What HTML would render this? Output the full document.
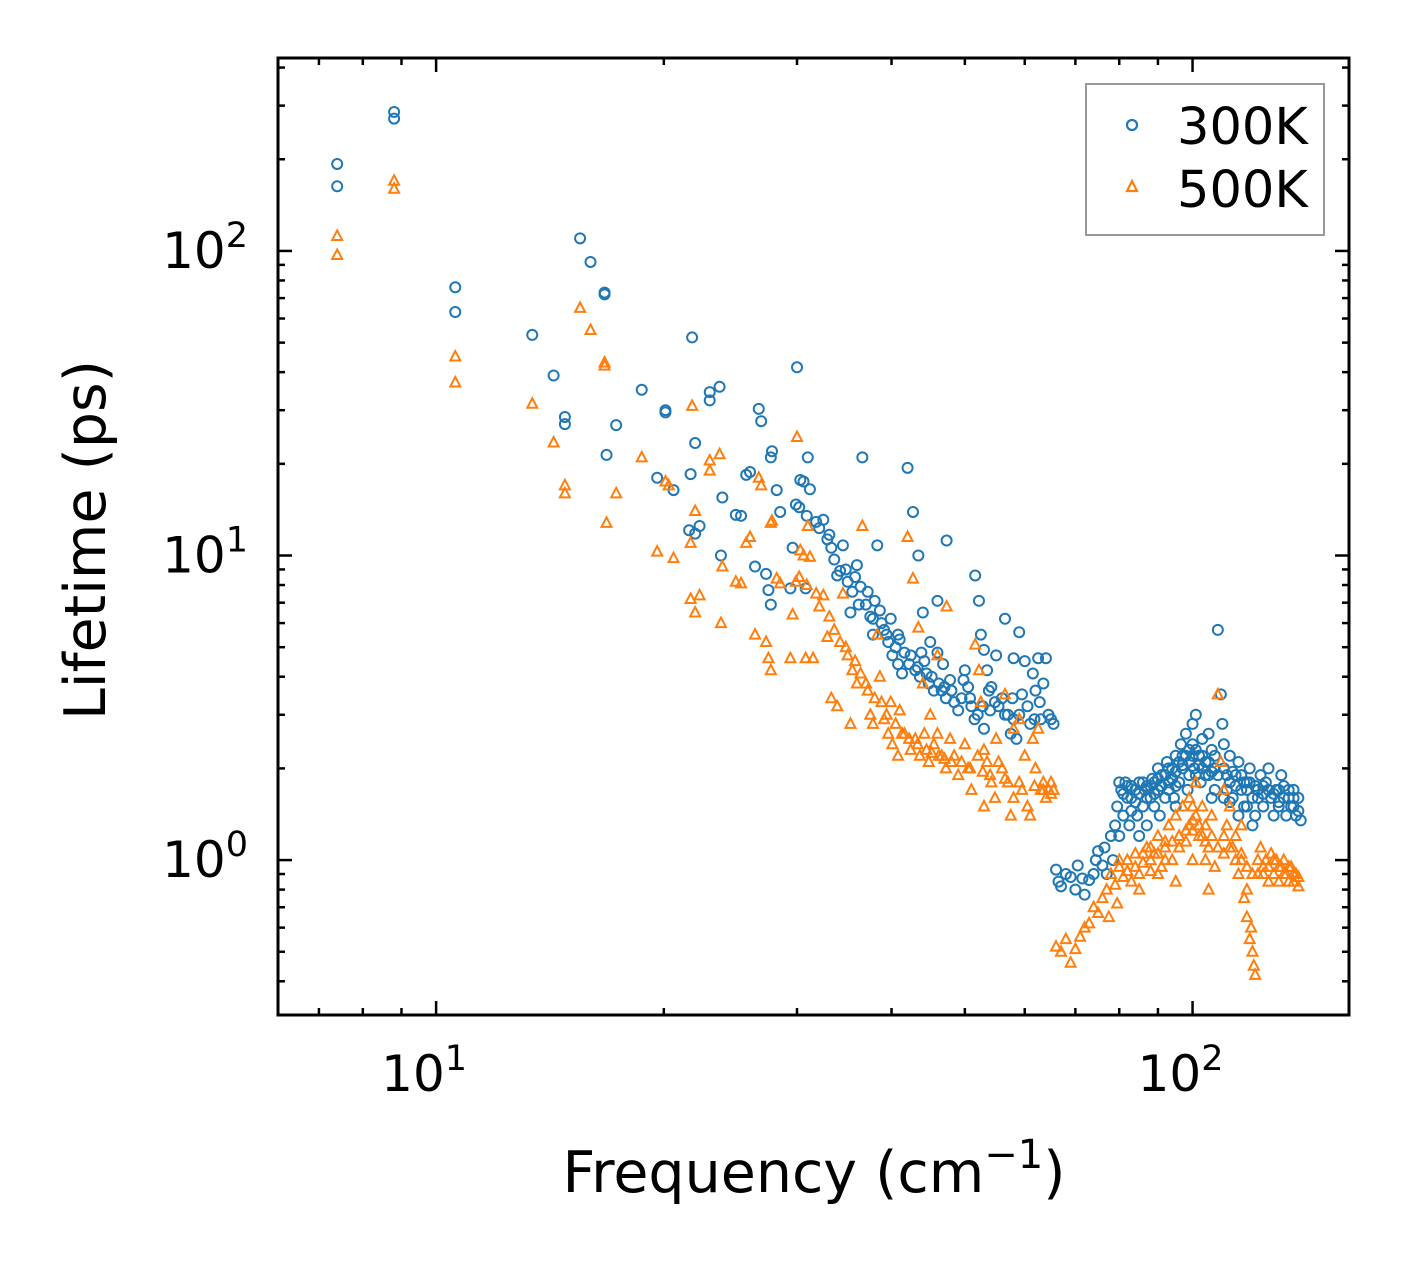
<!DOCTYPE html>
<html><head><meta charset="utf-8"><style>
body{margin:0;background:#fff}
svg text{font-family:"DejaVu Sans","Liberation Sans",sans-serif;fill:#000}
</style></head><body>
<svg id="chart" width="1408" height="1265" xmlns="http://www.w3.org/2000/svg">
<rect width="1408" height="1265" fill="#fff"/>
<g id="marks"></g>
<g id="axes"></g>
<rect x="278" y="58" width="1071" height="957" fill="none" stroke="#000" stroke-width="3"/>
<text x="814" y="1192" font-size="57" text-anchor="middle">Frequency (cm<tspan font-size="40" dy="-24">−1</tspan><tspan dy="24">)</tspan></text>
<text transform="translate(105,540) rotate(-90)" font-size="57" text-anchor="middle">Lifetime (ps)</text>
<g>
<rect x="1086" y="84" width="238" height="151" fill="#fff" stroke="#999" stroke-width="2"/>
<circle cx="1132" cy="125" r="5" fill="none" stroke="#1f77b4" stroke-width="2.2"/>
<text x="1177" y="144" font-size="51">300K</text>
<path d="M1132,181 L1137,191 L1127,191 Z" fill="none" stroke="#ff7f0e" stroke-width="2.2"/>
<text x="1177" y="207" font-size="51">500K</text>
</g>
</svg>
<script>
const series300 = [[7.4,193],[7.4,163],[8.8,286],[8.8,272],[10.6,63],[10.6,76],[13.4,53],[14.3,39],[14.8,28.5],[14.8,27],[15.5,110],[16,92],[16.7,73],[16.7,72],[16.8,21.4],[17.3,26.8],[18.7,35],[19.6,18],[20.1,30],[20.1,29.5],[20.6,16.4],[21.8,52],[21.7,18.5],[21.6,12.1],[22,11.8],[22,23.4],[22.3,12.5],[23,34.4],[23,32.3],[23.7,35.8],[23.8,10],[23.9,15.5],[24.9,13.6],[25.3,13.5],[25.7,18.4],[26,18.8],[26.4,9.2],[26.7,30.3],[26.9,27.6],[27.3,8.7],[27.5,7.7],[27.7,6.9],[27.7,21],[27.8,22],[28.2,16.4],[28.5,13.9],[29.4,7.8],[29.6,10.6],[29.9,14.7],[30.2,14.4],[30,41.5],[30.3,17.7],[30.6,17.5],[30.9,13.5],[31.2,16.5],[31,21],[30.8,7.8],[31.8,12.9],[32.1,12.3],[32.5,13.1],[32.9,11.3],[33.3,10.6],[33.1,11.7],[33.6,9.7],[34.2,8.9],[33.9,8.6],[34.5,10.8],[35,8.2],[35.5,7.6],[36,9.3],[35.3,6.5],[36.6,21],[37.2,7.6],[37.5,6.3],[38,7.1],[37.8,5.5],[38.3,10.8],[39.1,5.7],[39.6,5.2],[40.1,4.7],[39.9,6.2],[40.8,4.4],[41.3,4.1],[42,19.4],[42.7,13.9],[43.4,10],[42.4,4.7],[43,4.2],[43.6,4],[44.2,4.5],[44.8,3.8],[45.5,3.6],[47.3,11.2],[46,7.1],[46.6,3.6],[47.2,3.4],[47.8,3.9],[48.4,3.3],[49,3.1],[51.6,8.6],[52.2,7.1],[52.5,5.5],[53,4.9],[53.5,4.2],[54.2,3.7],[54.8,3.3],[55.4,3.2],[56,3.4],[50,4.2],[50.5,3.7],[51,3.2],[51.5,2.9],[52,3.0],[53,2.7],[55,4.7],[56.5,6.2],[57,3.0],[58,2.9],[58,4.6],[59,5.6],[59.5,3.5],[60,4.5],[60.5,3.2],[61,2.8],[61.5,4.1],[62,3.6],[62.5,4.6],[63,2.9],[63.5,3.8],[64,4.6],[64.5,3.0],[65,2.9],[65.5,2.8],[58.5,2.5],[57.5,2.6],[38.6,6.6],[41,5.3],[44,6.5],[45,5.2],[46,4.8],
[34.8,9.0],[35.8,8.5],[36.4,7.9],[37,6.9],[38.8,6.0],[39.4,5.5],[40.5,5.0],[41.6,4.8],[42.2,4.4],[43.3,4.3],[44.5,4.1],[45.2,4.0],[46.2,3.8],[47,3.7],[48,3.6],[49.5,3.4],[50.8,3.4],[52.8,3.2],[54,3.1],[56.5,3.0],[59,3.0],[61.8,2.9],[36.2,6.9],[37.8,6.2],[40.8,5.5],[43.8,4.8],[46.8,4.4],[49.8,3.9],[53.8,3.6],[57.8,3.4],[62.8,3.3],
[66,0.93],[66.5,0.85],[67,0.82],[68,0.9],[69,0.88],[70,0.8],[70.5,0.96],[71.5,0.87],[72,0.77],[73,0.86],[74,0.9],[74.5,1.0],[75,1.07],[76,0.96],[76.5,1.1],[77,0.9],[78,1.2],[78.5,1.0],[79,1.3],[79.5,1.5],[80,1.2],[80.5,1.7],[81,1.4],[81.5,1.8],[82,1.6],[82.5,1.3],[83,1.75],[84,1.55],[84.5,1.4],[85,1.8],[86,1.5],[86.5,1.7],[87,1.3],[88,1.6],[88.5,1.85],[89,1.5],[90,1.7],[90.5,1.4],[91,1.9],[92,1.6],[92.5,2.1],[93,1.8],[94,2.0],[94.5,1.6],[95,2.2],[96,1.8],[96.5,2.4],[97,2.0],[98,2.6],[98.5,1.7],[99,2.3],[100,2.8],[100.5,2.0],[101,3.0],[102,2.2],[102.5,1.8],[103,2.5],[104,2.1],[105,1.9],[106,2.3],[107,1.7],[108,5.7],[109,3.5],[109.5,2.8],[110,2.4],[111,1.9],[112,2.2],[113,1.6],[114,1.9],[115,2.1],[116,1.7],[117,1.5],[118,1.8],[119,2.0],[120,1.6],[121,1.4],[122,1.7],[123,1.9],[124,1.5],[125,1.8],[126,2.0],[127,1.6],[128,1.4],[129,1.7],[130,1.5],[131,1.9],[132,1.6],[133,1.4],[134,1.7],[135,1.5],[136,1.6],[137,1.4],[138,1.45],[139,1.35],[85,1.2],[90,2.0],[95,1.5],[100,2.4],[105,2.6],[110,1.6],[115,1.4],[120,1.3],[87,1.75],[93,1.7],[97,2.2],[99,1.9],[103,2.0],[107,2.2],[111,1.7],[117,1.8],
[80,1.8],[81,1.65],[82,1.75],[83,1.6],[84,1.7],[85,1.65],[86,1.8],[87,1.6],[88,1.75],[89,1.8],[90,1.85],[91,1.75],[92,1.9],[93,2.0],[94,1.85],[95,1.95],[96,2.1],[97,2.05],[98,2.2],[99,2.1],[100,2.2],[101,2.3],[102,2.05],[103,2.2],[104,1.9],[105,2.1],[106,1.95],[107,2.0],[108,1.9],[110,2.0],[112,1.8],[113,1.95],[114,1.75],[116,1.9],[118,1.7],[119,1.8],[121,1.75],[122,1.6],[124,1.75],[126,1.7],[128,1.65],[130,1.7],[132,1.75],[134,1.6],[136,1.7],[138,1.6],[83,1.45],[89,1.65],[95,1.75],[101,1.9],[106,1.6],[112,1.55],[118,1.5],[124,1.65],[130,1.55],[136,1.5]];
const series500 = [[7.4,112],[7.4,97],[8.8,170],[8.8,160],[10.6,45],[10.6,37],[13.4,31.5],[14.3,23.5],[14.8,17],[14.8,16],[15.5,65],[16,55],[16.7,43],[16.7,42],[16.8,12.8],[17.3,16],[18.7,21],[19.6,10.3],[20.1,17.5],[20.3,17],[20.6,9.8],[21.7,7.2],[21.7,11],[22,6.5],[22,14],[22.3,7.4],[21.8,31],[23,20.5],[23,19],[23.7,21.5],[23.8,6],[23.9,9.2],[24.9,8.2],[25.3,8.1],[25.7,11],[26,11.5],[26.4,5.5],[26.7,18],[26.9,17],[27.3,5.2],[27.5,4.6],[27.7,4.2],[27.7,12.8],[27.8,13],[28.2,8.4],[28.5,8.1],[29.4,4.6],[29.6,6.4],[29.9,8.2],[30.2,8.5],[30,24.5],[30.3,10.4],[30.6,10],[30.9,8],[31.2,9.9],[31,12.5],[30.8,4.6],[31.5,4.6],[31.8,7.5],[32.1,6.8],[32.5,7.4],[32.9,5.4],[33.3,3.4],[33.1,6.3],[33.6,5.7],[34.2,5.2],[33.9,3.2],[34.5,7.5],[35,4.7],[35.5,4.2],[36,3.8],[35.3,2.8],[36.6,12.5],[37.2,3.6],[37.5,3.0],[38,3.4],[37.8,2.8],[38.3,5.5],[39.1,2.9],[39.6,2.6],[40.1,2.4],[39.9,3.3],[40.8,2.2],[41.3,2.6],[42,11.5],[42.7,8.4],[43.4,5.8],[42.4,2.3],[43,2.5],[43.6,2.2],[44.2,2.6],[44.8,2.1],[45.5,2.4],[47.3,6.8],[46,4.7],[46.6,2.2],[47.2,2.0],[47.8,2.5],[48.4,2.2],[49,1.9],[51.6,5.1],[52.2,4.2],[52.5,3.3],[53,2.3],[53.5,2.1],[54.2,1.8],[54.8,1.6],[55.4,2.1],[56,2.0],[50,2.4],[50.5,2.0],[51,1.7],[52,2.2],[53,1.5],[55,2.5],[56.5,3.5],[57,1.8],[58,1.6],[58,2.7],[59,2.9],[59.5,1.7],[60,2.2],[60.5,1.5],[61,1.4],[61.5,2.5],[62,2.0],[62.5,2.7],[63,1.7],[63.5,1.8],[64,1.6],[64.5,1.7],[65,1.8],[65.5,1.7],[57.5,1.4],[38.6,4.0],[41,3.1],[44,3.8],[45,3.0],[46,2.6],
[34.8,5.0],[35.8,4.5],[36.4,4.1],[37,3.8],[38.8,3.3],[39.4,3.0],[40.5,2.8],[41.6,2.6],[42.2,2.5],[43.3,2.4],[44.5,2.3],[45.2,2.25],[46.2,2.2],[47,2.15],[48,2.1],[49.5,2.1],[50.8,2.0],[52.8,1.95],[54,1.9],[56.5,1.85],[59,1.8],[61.8,1.75],[63.5,1.7],[65,1.65],
[66,0.52],[67,0.5],[68,0.55],[69,0.46],[70,0.51],[71,0.56],[72,0.6],[73,0.62],[74,0.7],[75,0.67],[76,0.75],[77,0.8],[77.5,0.65],[78,0.9],[79,0.83],[79.5,0.72],[80,0.95],[81,0.88],[82,1.0],[83,0.85],[84,1.05],[85,0.9],[86,0.98],[87,1.1],[88,0.92],[89,1.05],[90,1.2],[91,0.95],[92,1.15],[93,1.3],[94,1.0],[95,1.4],[96,1.1],[97,1.5],[98,1.25],[99,1.6],[100,1.35],[101,1.8],[102,1.2],[103,1.5],[104,1.3],[105,1.1],[106,1.4],[107,0.95],[108,3.5],[109,2.1],[110,1.7],[111,1.3],[112,1.5],[113,1.1],[114,1.2],[115,0.9],[116,1.0],[117,0.75],[118,0.65],[119,0.55],[120,0.5],[120.5,0.45],[121,0.42],[119.5,0.6],[122,0.9],[123,1.1],[124,0.95],[125,1.0],[126,0.85],[127,1.05],[128,0.9],[129,1.0],[130,0.85],[131,0.95],[132,1.0],[133,0.9],[134,0.85],[135,0.95],[136,0.85],[137,0.9],[138,0.82],[85,0.8],[90,0.9],[95,0.85],[100,1.0],[105,0.8],[88,1.1],[92,1.0],[96,1.2],[100,1.5],[104,1.0],[110,1.2],[116,1.3],[118,0.8],
[80,1.0],[82,0.92],[84,0.95],[86,1.05],[88,1.0],[90,1.05],[92,1.1],[94,1.15],[96,1.2],[98,1.15],[99,1.3],[100,1.25],[101,1.4],[102,1.3],[103,1.2],[104,1.15],[106,1.2],[108,1.1],[110,1.05],[112,1.1],[114,1.0],[116,1.05],[118,0.95],[120,0.9],[122,1.0],[124,0.9],[126,0.95],[128,1.0],[130,0.95],[132,0.9],[134,0.95],[136,0.9],[138,0.88]];
const xMajorTicks = [10, 100];
const xMajorLabels = ["1", "2"];
const yMajorTicks = [1, 10, 100];
const yMajorLabels = ["0", "1", "2"];

const NS = "http://www.w3.org/2000/svg";
const X0 = 278, X1 = 1349, Y0 = 58, Y1 = 1015;
const xMin = Math.log10(6.18), xMax = Math.log10(161);
const yMin = Math.log10(0.31), yMax = Math.log10(430);
function xs(v){ return X0 + (Math.log10(v) - xMin) / (xMax - xMin) * (X1 - X0); }
function ys(v){ return Y1 - (Math.log10(v) - yMin) / (yMax - yMin) * (Y1 - Y0); }
function mk(tag, attrs){ const e = document.createElementNS(NS, tag); for (const k in attrs) e.setAttribute(k, attrs[k]); return e; }

const marks = document.getElementById('marks');
series300.forEach(d => {
  const c = mk('circle', {cx: xs(d[0]), cy: ys(d[1]), r: 5, fill: 'none', stroke: '#1f77b4', 'stroke-width': 2});
  
  
  marks.appendChild(c);
});
series500.forEach(d => {
  const x = xs(d[0]), y = ys(d[1]);
  const p = mk('path', {d: `M${x},${y-5.5} L${x+5},${y+4} L${x-5},${y+4} Z`, fill: 'none', stroke: '#ff7f0e', 'stroke-width': 2});
  
  
  marks.appendChild(p);
});

const axes = document.getElementById('axes');
function tick(x1, y1, x2, y2){ axes.appendChild(mk('line', {x1, y1, x2, y2, stroke: '#000', 'stroke-width': 2.5})); }
const xMinor = [7,8,9,20,30,40,50,60,70,80,90];
xMinor.forEach(v => { const x = xs(v); tick(x, Y1, x, Y1-7); tick(x, Y0, x, Y0+7); });
xMajorTicks.forEach((v, i) => {
  const x = xs(v); tick(x, Y1, x, Y1-14); tick(x, Y0, x, Y0+14);
  const t = mk('text', {x: x - 12, y: 1091, 'font-size': 50, 'text-anchor': 'middle'});
  t.innerHTML = `10<tspan font-size="35" dy="-21">${xMajorLabels[i]}</tspan>`;
  
  
  axes.appendChild(t);
});
const yMinor = [0.4,0.5,0.6,0.7,0.8,0.9,2,3,4,5,6,7,8,9,20,30,40,50,60,70,80,90,200,300,400];
yMinor.forEach(v => { const y = ys(v); tick(X0, y, X0+7, y); tick(X1, y, X1-7, y); });
yMajorTicks.forEach((v, i) => {
  const y = ys(v); tick(X0, y, X0+14, y); tick(X1, y, X1-14, y);
  const t = mk('text', {x: 248, y: y + 17, 'font-size': 50, 'text-anchor': 'end'});
  t.innerHTML = `10<tspan font-size="35" dy="-21">${yMajorLabels[i]}</tspan>`;
  
  
  axes.appendChild(t);
});
</script>
</body></html>
